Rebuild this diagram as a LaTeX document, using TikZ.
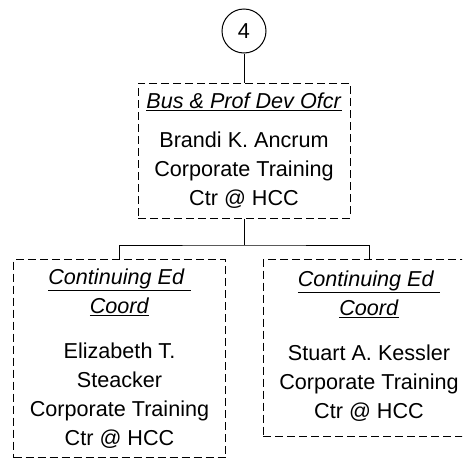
\documentclass[tikz,border=0pt]{standalone}
\usepackage{fontspec}
\setmainfont{Liberation Sans}
\usetikzlibrary{positioning}

\tikzset{
  unitbox/.style={draw, dash pattern=on 6pt off 3pt, line width=0.75pt, align=center,
    minimum width=159pt, inner sep=0pt,
    font=\fontsize{16.2}{21.75}\selectfont},
  tag/.style={draw, circle, line width=0.75pt, minimum size=33pt, inner sep=0pt,
    font=\fontsize{16.2}{18}\selectfont},
  link/.style={line width=0.75pt}
}
\newcommand{\posttitle}[1]{\underline{\textit{#1}}}

\begin{document}
\begin{tikzpicture}[x=0.75pt,y=-0.75pt]

\clip (0,0) rectangle (462,468);

% page marker
\node[tag] (num) at (244,31) {4};

% head of the unit
\node[unitbox, minimum height=101.25pt] (head) at (244,150.5)
  {\posttitle{Bus \& Prof Dev Ofcr}\\[8pt]
   Brandi K. Ancrum\\ Corporate Training\\ Ctr @ HCC};

% the two coordinators
\node[unitbox, minimum height=148.5pt] (coordA) at (119.5,358.5)
  {\posttitle{Continuing Ed\ }\\ \posttitle{Coord}\\[12pt]
   Elizabeth T.\\ Steacker\\ Corporate Training\\ Ctr @ HCC};
\node[unitbox, minimum height=132.75pt] (coordB) at (369,348)
  {\posttitle{Continuing Ed\ }\\ \posttitle{Coord}\\[12pt]
   Stuart A. Kessler\\ Corporate Training\\ Ctr @ HCC\\[-16.5pt]};

\coordinate (bus) at (244,245);

\draw[link] (num) -- (head);
\draw[link] (head) -- (bus);
\draw[link] (coordA.north) |- (bus) -| (coordB.north);

\end{tikzpicture}
\end{document}
